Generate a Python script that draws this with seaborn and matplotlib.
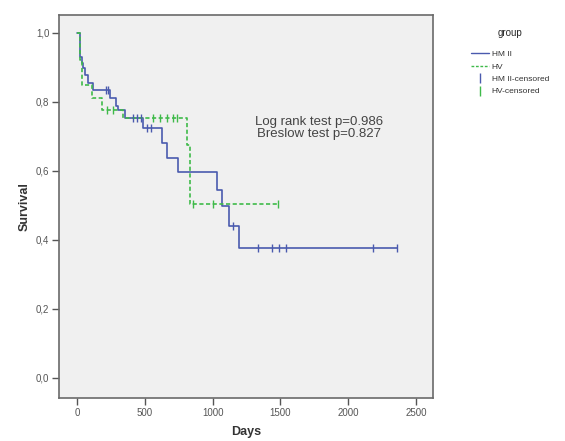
import numpy as np
import pandas as pd
import matplotlib
matplotlib.use("Agg")
import matplotlib.pyplot as plt
import seaborn as sns
from matplotlib.lines import Line2D

sns.set_theme(style="white")
plt.rcParams['font.family'] = ['Liberation Sans', 'DejaVu Sans']

# ---- data ----
hm_time = [0, 22, 35, 46, 59, 81, 118, 243, 288, 302, 354, 489, 627, 662, 747, 1030, 1067, 1123, 1197, 2362]
hm_surv = [1.0, 0.93, 0.913, 0.899, 0.878, 0.855, 0.835, 0.811, 0.787, 0.777, 0.753, 0.724, 0.680, 0.637, 0.598, 0.545, 0.497, 0.441, 0.376, 0.376]
hm_cens_time = [214, 232, 413, 442, 472, 516, 546, 1150, 1337, 1436, 1492, 1541, 2181, 2362]
hm_cens_surv = [0.835, 0.835, 0.753, 0.753, 0.753, 0.724, 0.724, 0.441, 0.376, 0.376, 0.376, 0.376, 0.376, 0.376]

hv_time = [0, 22, 37, 111, 184, 339, 809, 830, 1482]
hv_surv = [1.0, 0.922, 0.849, 0.811, 0.777, 0.753, 0.675, 0.505, 0.505]
hv_cens_time = [221, 265, 560, 612, 661, 708, 737, 858, 1005, 1482]
hv_cens_surv = [0.777, 0.777, 0.753, 0.753, 0.753, 0.753, 0.753, 0.505, 0.505, 0.505]

x_ticks = [0, 500, 1000, 1500, 2000, 2500]
y_ticks = [0.0, 0.2, 0.4, 0.6, 0.8, 1.0]
y_labels = ["0,0", "0,2", "0,4", "0,6", "0,8", "1,0"]
legend_labels = ["HM II", "HV", "HM II-censored", "HV-censored"]

blue = "#4a5aae"
green = "#3fba4a"

fig = plt.figure(figsize=(5.65, 4.41), dpi=100)
ax = fig.add_axes([59/565, 1-398/441, (433-59)/565, (398-15)/441])
ax.set_facecolor("#f0f0f0")

sns.lineplot(x=hm_time, y=hm_surv, ax=ax, drawstyle="steps-post", color=blue,
             linewidth=1.2, estimator=None, sort=False)
sns.lineplot(x=hv_time, y=hv_surv, ax=ax, drawstyle="steps-post", color=green,
             linewidth=1.2, estimator=None, sort=False, linestyle=(0, (2.5, 1.5)))
sns.scatterplot(x=hm_cens_time, y=hm_cens_surv, ax=ax, marker="|", s=30,
                color=blue, linewidth=1.0, zorder=3)
sns.scatterplot(x=hv_cens_time, y=hv_cens_surv, ax=ax, marker="|", s=30,
                color=green, linewidth=1.0, zorder=3)

ax.set_xlim(-133, 2625)
ax.set_ylim(-0.058, 1.052)
ax.set_xticks(x_ticks)
ax.set_xticklabels([str(v) for v in x_ticks], fontsize=7, color="#555555")
ax.set_yticks(y_ticks)
ax.set_yticklabels(y_labels, fontsize=7, color="#555555")
ax.tick_params(axis="both", length=5, width=1, color="#555555", direction="out",
               bottom=True, left=True, pad=2)
for sp in ax.spines.values():
    sp.set_color("#6a6a6a")
    sp.set_linewidth(1.2)

ax.set_xlabel("Days", fontsize=9, fontweight="bold", color="#333333", labelpad=6)
ax.set_ylabel("Survival", fontsize=9, fontweight="bold", color="#333333", labelpad=4)

ax.text(0.695, 0.705, "Log rank test p=0.986\nBreslow test p=0.827", transform=ax.transAxes,
        ha="center", va="center", fontsize=9.5, color="#444444", linespacing=0.95)

handles = [Line2D([], [], color=blue, lw=1),
           Line2D([], [], color=green, lw=1, linestyle=(0, (2, 1.2))),
           Line2D([], [], color=blue, marker="|", linestyle="none", markersize=7),
           Line2D([], [], color=green, marker="|", linestyle="none", markersize=7)]
leg = fig.legend(handles, legend_labels, title="group", loc="upper left",
                 bbox_to_anchor=(465/565, 1-22/441), frameon=False, fontsize=6,
                 title_fontsize=7, handlelength=2.2, handletextpad=0.3,
                 labelspacing=0.55, borderpad=0.2)
leg._legend_box.sep = 9
for t in leg.get_texts():
    t.set_color("#333333")

fig.savefig("out.png", dpi=100)
